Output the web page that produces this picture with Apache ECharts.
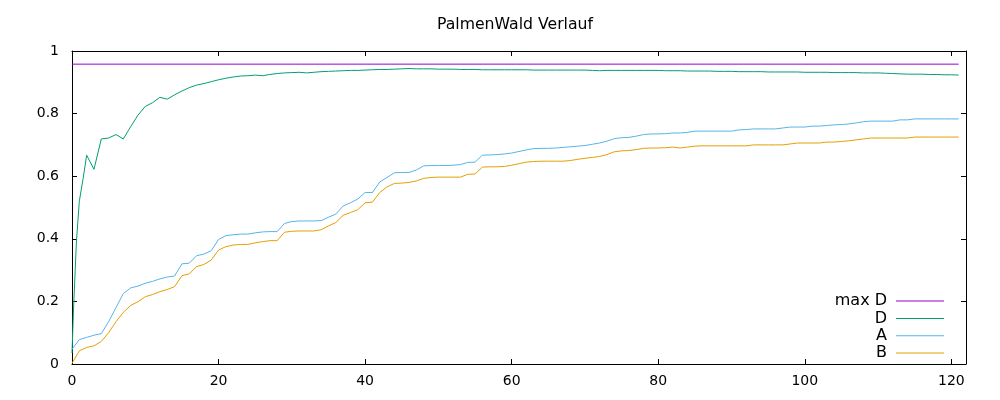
<!DOCTYPE html>
<html>
<head>
<meta charset="utf-8">
<script src="https://cdn.jsdelivr.net/npm/echarts@6/dist/echarts.min.js"></script>
<style>html,body{margin:0;padding:0;background:#fff}#c{width:1000px;height:400px}</style>
</head>
<body>
<div id="c"></div>
<script>
const titleText = 'PalmenWald Verlauf';
const seriesNames = ['max D', 'D', 'A', 'B'];
const maxD = 0.958;
const maxDX = [0, 121];

const dX = [0, 0.2, 0.6, 1, 1.5, 2,
  3,4,5,6,7,8,9,10,11,12,13,14,15,16,17,18,19,20,21,22,23,24,25,26,27,28,29,30,
  31,32,33,34,35,36,37,38,39,40,41,42,43,44,45,46,47,48,49,50,51,52,53,54,55,56,57,58,59,60,
  61,62,63,64,65,66,67,68,69,70,71,72,73,74,75,76,77,78,79,80,81,82,83,84,85,86,87,88,89,90,
  91,92,93,94,95,96,97,98,99,100,101,102,103,104,105,106,107,108,109,110,
  111,112,113,114,115,116,117,118,119,120,121];
const dValues = [0.035, 0.17, 0.39, 0.52, 0.59, 0.667,
  0.622,0.719,0.722,0.733,0.719,0.758,0.795,0.823,0.835,0.852,0.846,0.860,0.872,0.883,0.891,0.896,0.902,0.908,0.913,0.917,0.920,0.921,0.923,0.921,0.925,0.928,0.930,0.931,
  0.932,0.930,0.932,0.934,0.935,0.936,0.937,0.938,0.938,0.939,0.940,0.941,0.941,0.942,0.943,0.944,0.943,0.943,0.943,0.942,0.942,0.942,0.941,0.941,0.941,0.940,0.940,0.940,0.940,0.940,
  0.940,0.940,0.939,0.939,0.939,0.939,0.939,0.939,0.939,0.939,0.938,0.937,0.938,0.938,0.938,0.938,0.938,0.938,0.938,0.938,0.937,0.937,0.937,0.936,0.936,0.936,0.936,0.935,0.935,0.935,
  0.934,0.934,0.934,0.934,0.933,0.933,0.933,0.933,0.933,0.932,0.932,0.932,0.932,0.931,0.931,0.931,0.931,0.930,0.930,0.930,
  0.929,0.928,0.927,0.926,0.926,0.926,0.925,0.925,0.924,0.924,0.923];

const abX = [0,1,2,3,4,5,6,7,8,9,10,11,12,13,14,15,16,17,18,19,20,21,22,23,24,25,26,27,28,29,30,
  31,32,33,34,35,36,37,38,39,40,41,42,43,44,45,46,47,48,49,50,51,52,53,54,55,56,57,58,59,60,
  61,62,63,64,65,66,67,68,69,70,71,72,73,74,75,76,77,78,79,80,81,82,83,84,85,86,87,88,89,90,
  91,92,93,94,95,96,97,98,99,100,101,102,103,104,105,106,107,108,109,110,
  111,112,113,114,115,116,117,118,119,120,121];
const aValues = [0.047,0.078,0.085,0.092,0.097,0.135,0.180,0.225,0.243,0.249,0.258,
  0.264,0.272,0.278,0.281,0.320,0.322,0.346,0.351,0.362,0.398,
  0.410,0.413,0.415,0.415,0.419,0.422,0.423,0.423,0.449,0.455,
  0.457,0.457,0.457,0.458,0.469,0.479,0.505,0.515,0.527,0.548,
  0.548,0.582,0.596,0.611,0.612,0.612,0.620,0.633,0.634,0.634,
  0.634,0.635,0.637,0.644,0.645,0.667,0.668,0.669,0.671,0.674,
  0.679,0.684,0.688,0.689,0.689,0.690,0.692,0.694,0.696,0.698,
  0.702,0.706,0.712,0.720,0.723,0.724,0.728,0.733,0.735,0.735,
  0.736,0.738,0.738,0.740,0.744,0.744,0.744,0.744,0.744,0.744,
  0.748,0.749,0.751,0.751,0.751,0.751,0.754,0.757,0.757,0.757,
  0.760,0.760,0.762,0.764,0.765,0.767,0.770,0.774,0.776,0.776,
  0.776,0.776,0.780,0.780,0.783,0.783,0.783,0.783,0.783,0.783,0.783];
const bValues = [0.002,0.042,0.053,0.058,0.072,0.100,0.135,0.165,0.187,0.199,0.215,
  0.222,0.231,0.238,0.247,0.282,0.288,0.311,0.318,0.332,0.364,
  0.375,0.380,0.382,0.382,0.387,0.391,0.394,0.394,0.421,0.424,
  0.425,0.425,0.425,0.429,0.441,0.452,0.475,0.484,0.493,0.515,
  0.517,0.548,0.566,0.577,0.578,0.580,0.585,0.593,0.596,0.597,
  0.597,0.597,0.597,0.606,0.607,0.629,0.630,0.630,0.631,0.635,
  0.640,0.645,0.647,0.648,0.648,0.648,0.648,0.650,0.654,0.657,
  0.660,0.663,0.669,0.678,0.681,0.682,0.685,0.689,0.690,0.690,
  0.691,0.693,0.690,0.693,0.696,0.697,0.697,0.697,0.697,0.697,
  0.697,0.697,0.700,0.700,0.700,0.700,0.700,0.703,0.706,0.706,
  0.706,0.706,0.709,0.709,0.711,0.713,0.716,0.719,0.722,0.722,
  0.722,0.722,0.722,0.722,0.725,0.725,0.725,0.725,0.725,0.725,0.725];

const colors = ['#9400d3', '#009e73', '#56b4e9', '#e69f00'];
const FONT = 'DejaVu Sans';

function pairs(xs, ys) { return xs.map((x, i) => [x, ys[i]]); }

const axisCommon = {
  type: 'value',
  axisLine: { show: true, onZero: false, lineStyle: { color: '#000', width: 1 } },
  axisTick: { show: true, inside: true, length: 5, lineStyle: { color: '#000', width: 1 } },
  splitLine: { show: false },
  axisLabel: { color: '#000', fontFamily: FONT, fontSize: 14 }
};

const chart = echarts.init(document.getElementById('c'), null, { renderer: 'canvas' });
chart.setOption({
  animation: false,
  color: colors,
  title: {
    text: titleText,
    left: 515, top: 17, padding: 0, textAlign: 'center',
    textStyle: { fontFamily: FONT, fontSize: 15.7, fontWeight: 'normal', color: '#000' }
  },
  grid: { left: 72, right: 34, top: 51, bottom: 36, containLabel: false },
  legend: {
    orient: 'vertical', align: 'right', right: 56, bottom: 39, padding: 0,
    itemGap: 1.3, itemWidth: 48, itemHeight: 1, icon: 'rect',
    data: seriesNames,
    textStyle: { fontFamily: FONT, fontSize: 16, color: '#000', padding: [0, 4, 0, 0] }
  },
  xAxis: [
    Object.assign({}, axisCommon, { position: 'bottom', min: 0, max: 122, interval: 20,
      axisLabel: Object.assign({}, axisCommon.axisLabel, { margin: 10, showMaxLabel: false,
        formatter: v => (v > 121 ? '' : String(v)) }) }),
    Object.assign({}, axisCommon, { position: 'top', min: 0, max: 122, interval: 20,
      axisLabel: { show: false } })
  ],
  yAxis: [
    Object.assign({}, axisCommon, { position: 'left', min: 0, max: 1, interval: 0.2,
      axisLabel: Object.assign({}, axisCommon.axisLabel, { margin: 13,
        formatter: v => String(Math.round(v * 10) / 10) }) }),
    Object.assign({}, axisCommon, { position: 'right', min: 0, max: 1, interval: 0.2,
      axisLabel: { show: false } })
  ],
  series: [
    { name: seriesNames[0], type: 'line', showSymbol: false, symbol: 'none',
      lineStyle: { width: 1, color: colors[0] }, data: pairs(maxDX, [maxD, maxD]) },
    { name: seriesNames[1], type: 'line', showSymbol: false, symbol: 'none',
      lineStyle: { width: 1, color: colors[1] }, data: pairs(dX, dValues) },
    { name: seriesNames[2], type: 'line', showSymbol: false, symbol: 'none',
      lineStyle: { width: 1, color: colors[2] }, data: pairs(abX, aValues) },
    { name: seriesNames[3], type: 'line', showSymbol: false, symbol: 'none',
      lineStyle: { width: 1, color: colors[3] }, data: pairs(abX, bValues) }
  ]
});
</script>
</body>
</html>
